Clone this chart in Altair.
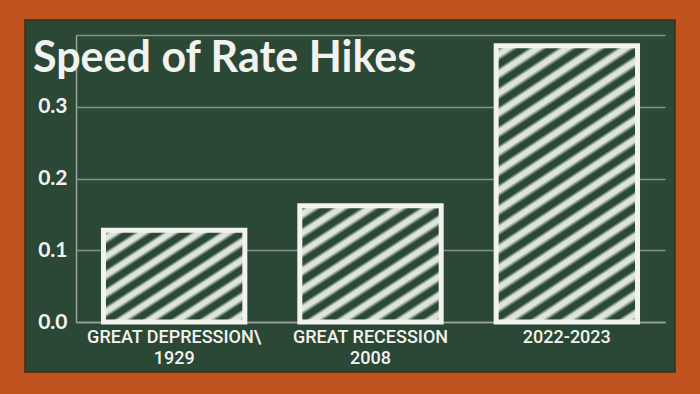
import altair as alt
import pandas as pd

# ---- data ----
categories = ["GREAT DEPRESSION\\\n1929", "GREAT RECESSION\n2008", "2022-2023"]
values = [0.128, 0.162, 0.385]
y_ticks = [0.0, 0.1, 0.2, 0.3, 0.4]
title_text = "Speed of Rate Hikes"

df = pd.DataFrame({"period": categories, "speed": values})

BOARD = "#2b4836"
FRAME = "#bf521f"
CHALK = "#f2f3ee"
HATCH = "#dde4da"
GRID = "#9aa69c"

W, H = 589, 287
PAD = {"left": 76, "top": 35, "right": 700 - 76 - W, "bottom": 394 - 35 - H}


def hatch(x2, y2, n):
    stops = []
    for i in range(n):
        o = i / n
        s = 1.0 / n
        stops += [
            {"offset": o, "color": BOARD},
            {"offset": o + 0.2 * s, "color": BOARD},
            {"offset": o + 0.4 * s, "color": HATCH},
            {"offset": o + 0.65 * s, "color": HATCH},
            {"offset": o + 0.88 * s, "color": BOARD},
        ]
    stops.append({"offset": 1.0, "color": BOARD})
    return alt.LinearGradient(gradient="linear", x1=0, y1=0, x2=x2, y2=y2, stops=stops)


gradients = [hatch(1.0, 1.0, 10), hatch(0.871, 1.102, 11), hatch(0.406, 1.2, 19)]

x_enc = alt.X(
    "period:N",
    sort=categories,
    scale=alt.Scale(paddingInner=0.28, paddingOuter=0.14),
    axis=alt.Axis(
        title=None,
        labelAngle=0,
        labelExpr="split(datum.label, '\\n')",
        labelFont="Roboto, Liberation Sans Narrow, sans-serif",
        labelFontWeight=500,
        labelFontSize=18,
        labelLineHeight=21,
        labelLimit=0,
        labelColor=CHALK,
        labelPadding=6,
        ticks=False,
        domainColor=GRID,
        domainWidth=1.5,
    ),
)
y_enc = alt.Y(
    "speed:Q",
    scale=alt.Scale(domain=[0, 0.4], nice=False),
    axis=alt.Axis(
        title=None,
        values=y_ticks,
        labelExpr="datum.value > 0.35 ? '' : format(datum.value, '.1f')",
        labelFont="Lato, Noto Sans, sans-serif",
        labelFontWeight="bold",
        labelFontSize=21,
        labelColor=CHALK,
        labelPadding=9,
        ticks=False,
        grid=True,
        gridColor=GRID,
        gridWidth=1.5,
        gridOpacity=0.8,
        domainColor=GRID,
        domainWidth=1.5,
    ),
)

base = alt.Chart(df)

bar_layers = []
for cat, grad in zip(categories, gradients):
    bar_layers.append(
        base.transform_filter(alt.datum.period == cat)
        .mark_bar(fill=grad, stroke=CHALK, strokeWidth=5, strokeJoin="miter")
        .encode(x=x_enc, y=y_enc)
    )

one = alt.Data(values=[{"a": 1}])
frame_rect = lambda x, x2, y, y2: alt.Chart(one).mark_rect(color=FRAME).encode(
    x=alt.value(x), x2=alt.value(x2), y=alt.value(y), y2=alt.value(y2)
)
L, T = PAD["left"], PAD["top"]
frame = [
    frame_rect(-L, 25 - L, -T, 394 - T),
    frame_rect(675 - L, 700 - L, -T, 394 - T),
    frame_rect(-L, 700 - L, -T, 20 - T),
    frame_rect(-L, 700 - L, 372 - T, 394 - T),
]
edge = alt.Chart(one).mark_rect(fill=None, stroke="#3a2a14", strokeWidth=2, strokeOpacity=0.7).encode(
    x=alt.value(25 - L), x2=alt.value(675 - L), y=alt.value(20 - T), y2=alt.value(372 - T)
)

chart = (
    alt.layer(*bar_layers, *frame, edge)
    .properties(
        width=W,
        height=H,
        background=BOARD,
        padding=PAD,
        autosize=alt.AutoSizeParams(type="none"),
        title=alt.TitleParams(
            title_text,
            anchor="start",
            frame="group",
            font="Lato, Noto Sans, sans-serif",
            fontWeight="bold",
            fontSize=43,
            color=CHALK,
            baseline="alphabetic",
            offset=0,
            dx=33 - L,
            dy=115,
        ),
    )
    .configure_view(stroke=None)
)

chart.save("out.html", embed_options={"renderer": "svg", "actions": False})
